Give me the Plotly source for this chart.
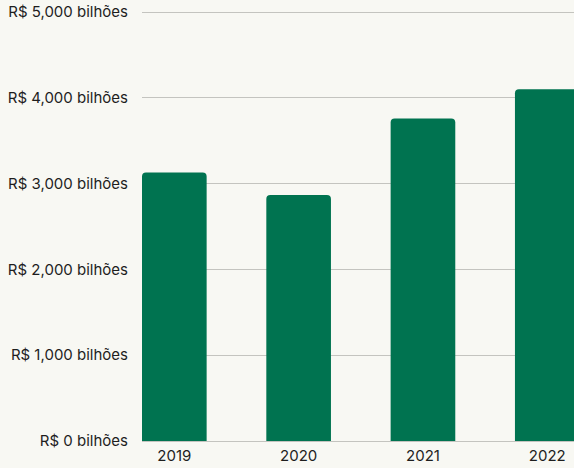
import plotly.graph_objects as go

years = ["2019", "2020", "2021", "2022"]
values = [3130, 2867, 3760, 4100]
tick_vals = [0, 1000, 2000, 3000, 4000, 5000]
tick_text = ["R$ 0 bilhões", "R$ 1,000 bilhões", "R$ 2,000 bilhões",
             "R$ 3,000 bilhões", "R$ 4,000 bilhões", "R$ 5,000 bilhões"]

fig = go.Figure(go.Bar(
    x=years, y=values,
    marker=dict(color="#007350", line=dict(width=0)),
    width=0.52,
))
fig.update_layout(
    width=574, height=468,
    margin=dict(l=142, r=0, t=11, b=27),
    paper_bgcolor="#f8f8f3", plot_bgcolor="#f8f8f3",
    barcornerradius=4,
    font=dict(family="Inter, sans-serif", size=15, color="#1e1e1e"),
    showlegend=False,
    xaxis=dict(range=[-0.26, 3.215], showgrid=False, showline=False,
               ticks="", tickfont=dict(size=15), ticklabelstandoff=4),
    yaxis=dict(range=[0, 5012], tickvals=tick_vals, ticktext=tick_text,
               showgrid=True, gridcolor="#c4c4bf", gridwidth=1,
               zeroline=True, zerolinecolor="#c4c4bf", zerolinewidth=1,
               ticks="", ticklabelstandoff=13, tickfont=dict(size=15)),
)
fig.write_html("out.html", config={"displayModeBar": False},
               post_script="document.body.style.margin='0';")
